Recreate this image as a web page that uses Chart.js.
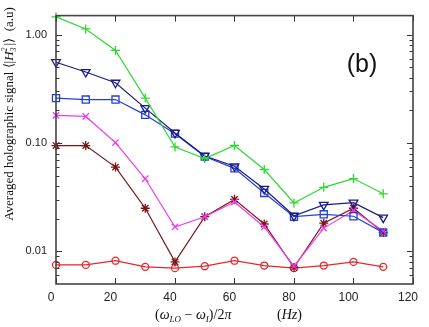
<!DOCTYPE html>
<html>
<head>
<meta charset="utf-8">
<script src="https://cdn.jsdelivr.net/npm/chart.js@4.4.1/dist/chart.umd.min.js"></script>
<style>
  body { margin: 0; background: #fff; }
  canvas { display: block; }
</style>
</head>
<body>
<canvas id="chart" width="429" height="327"></canvas>
<script>
// frequency offset (Hz)
const freq = [0, 10, 20, 30, 40, 50, 60, 70, 80, 90, 100, 110];

// averaged holographic signal (a.u), one array per curve
const greenPlus = [1.46, 1.13, 0.715, 0.26, 0.092, 0.072, 0.095, 0.057, 0.028, 0.039, 0.047, 0.034];
const navyTriangle = [0.557, 0.452, 0.36, 0.21, 0.124, 0.076, 0.061, 0.0377, 0.0213, 0.0269, 0.0282, 0.0205];
const blueSquare = [0.26, 0.252, 0.252, 0.182, 0.122, 0.075, 0.0584, 0.0346, 0.0209, 0.022, 0.0211, 0.0149];
const magentaX = [0.18, 0.176, 0.101, 0.0468, 0.0168, 0.0209, 0.0286, 0.0168, 0.0073, 0.0164, 0.0238, 0.0154];
const maroonStar = [0.0948, 0.0948, 0.06, 0.025, 0.008, 0.0209, 0.0302, 0.0179, 0.0071, 0.0182, 0.025, 0.0149];
const redCircle = [0.0075, 0.0075, 0.0082, 0.0072, 0.007, 0.0073, 0.0082, 0.0074, 0.007, 0.0074, 0.008, 0.0072];

// axis ticks
const xTicks = [0, 20, 40, 60, 80, 100, 120];
const yTicks = [0.01, 0.1, 1];
const yMinorTicks = [0.006, 0.007, 0.008, 0.009, 0.02, 0.03, 0.04, 0.05, 0.06, 0.07, 0.08, 0.09,
  0.2, 0.3, 0.4, 0.5, 0.6, 0.7, 0.8, 0.9];

const toPoints = (ys) => ys.map((y, i) => ({ x: freq[i], y: y }));

function series(label, ys, color, style, radius, rotation) {
  return {
    label: label,
    data: toPoints(ys),
    borderColor: color,
    backgroundColor: 'rgba(0,0,0,0)',
    pointBorderColor: color,
    pointBackgroundColor: 'rgba(0,0,0,0)',
    borderWidth: 1.2,
    pointBorderWidth: 1.3,
    pointStyle: style,
    pointRadius: radius,
    pointRotation: rotation || 0,
    tension: 0,
    clip: false
  };
}

// frame, inward ticks, axis titles and panel label
const decorations = {
  id: 'decorations',
  afterDraw(chart) {
    const ctx = chart.ctx;
    const a = chart.chartArea;
    const xs = chart.scales.x;
    const ys = chart.scales.y;
    ctx.save();
    ctx.strokeStyle = '#333';
    ctx.lineWidth = 1;
    ctx.beginPath();
    xTicks.forEach(v => {
      const px = Math.round(xs.getPixelForValue(v)) + 0.5;
      ctx.moveTo(px, a.bottom); ctx.lineTo(px, a.bottom - 6);
      ctx.moveTo(px, a.top); ctx.lineTo(px, a.top + 6);
    });
    yTicks.forEach(v => {
      const py = Math.round(ys.getPixelForValue(v)) + 0.5;
      ctx.moveTo(a.left, py); ctx.lineTo(a.left + 6, py);
      ctx.moveTo(a.right, py); ctx.lineTo(a.right - 6, py);
    });
    yMinorTicks.forEach(v => {
      const py = Math.round(ys.getPixelForValue(v)) + 0.5;
      ctx.moveTo(a.left, py); ctx.lineTo(a.left + 3.5, py);
      ctx.moveTo(a.right, py); ctx.lineTo(a.right - 3.5, py);
    });
    ctx.stroke();
    ctx.lineWidth = 1.6;
    ctx.strokeStyle = '#444';
    ctx.strokeRect(a.left, a.top, a.right - a.left, a.bottom - a.top);

    // panel label
    ctx.fillStyle = '#111';
    ctx.font = '25px "Liberation Sans", Arial, sans-serif';
    ctx.textAlign = 'center';
    ctx.textBaseline = 'middle';
    ctx.fillText('(b)', a.left + 306, a.top + 50);

    // x title
    ctx.textAlign = 'left';
    ctx.textBaseline = 'alphabetic';
    const serif = '"Liberation Serif", "Times New Roman", serif';
    const drawRun = (pieces, x0, y0) => {
      let x = x0;
      pieces.forEach(p => {
        ctx.font = (p[1] ? 'italic ' : '') + p[2] + 'px ' + serif;
        ctx.fillText(p[0], x, y0 + (p[3] || 0));
        x += ctx.measureText(p[0]).width;
      });
      return x - x0;
    };
    const xTitle = [
      ['(', false, 14], ['ω', true, 14], ['LO', true, 9, 3], [' − ', false, 14],
      ['ω', true, 14], ['I', true, 9, 3], [')/2', false, 14], ['π', true, 14]
    ];
    const hz = [['(', false, 14], ['Hz', true, 14], [')', false, 14]];
    ctx.fillStyle = '#111';
    drawRun(xTitle, a.left + 99, 319);
    drawRun(hz, a.left + 221, 319);

    // y title (rotated)
    ctx.translate(13, 114);
    ctx.rotate(-Math.PI / 2);
    const yPieces = [
      ['Averaged holographic signal ⟨|', false, 13], ['H', true, 13]
    ];
    const tail = '|⟩  (a.u)';
    let total = 0;
    yPieces.forEach(p => {
      ctx.font = (p[1] ? 'italic ' : '') + p[2] + 'px ' + serif;
      total += ctx.measureText(p[0]).width;
    });
    total += 6;
    ctx.font = '13px ' + serif;
    total += ctx.measureText(tail).width;
    let x = -total / 2;
    x += drawRun(yPieces, x, 0);
    ctx.font = 'italic 8px ' + serif;
    ctx.fillText('2', x, -6);
    ctx.fillText('3', x, 3);
    x += 6;
    ctx.font = '13px ' + serif;
    ctx.fillText(tail, x, 0);
    ctx.restore();
  }
};

new Chart(document.getElementById('chart'), {
  type: 'line',
  data: {
    datasets: [
      series('green +', greenPlus, '#2fd82f', 'cross', 4.5),
      series('navy triangle', navyTriangle, '#1b1b86', 'triangle', 5, 180),
      series('blue square', blueSquare, '#2340d6', 'rect', 5),
      series('magenta x', magentaX, '#ee3cee', 'crossRot', 4.5),
      series('maroon star', maroonStar, '#7c1414', 'star', 4.5),
      series('red circle', redCircle, '#e8262a', 'circle', 3.5)
    ]
  },
  options: {
    responsive: false,
    animation: false,
    layout: { padding: { top: 2, right: 3, left: 0, bottom: 0 } },
    plugins: { legend: { display: false }, tooltip: { enabled: false } },
    scales: {
      x: {
        type: 'linear',
        min: 0,
        max: 120,
        grid: { display: false, drawTicks: false },
        border: { display: false },
        afterBuildTicks: (s) => { s.ticks = xTicks.map(v => ({ value: v })); },
        afterFit: (s) => { s.height = 43; },
        ticks: {
          padding: 6,
          labelOffset: -5,
          color: '#222',
          maxRotation: 0,
          font: { family: '"Liberation Sans", Arial, sans-serif', size: 12 }
        }
      },
      y: {
        type: 'logarithmic',
        min: 0.005,
        max: 1.5,
        grid: { display: false, drawTicks: false },
        border: { display: false },
        afterBuildTicks: (s) => { s.ticks = yTicks.map(v => ({ value: v })); },
        afterFit: (s) => { s.width = 56; },
        ticks: {
          padding: 9,
          color: '#222',
          font: { family: '"Liberation Sans", Arial, sans-serif', size: 11 },
          callback: (v) => Number(v).toFixed(2)
        }
      }
    }
  },
  plugins: [decorations]
});
</script>
</body>
</html>
